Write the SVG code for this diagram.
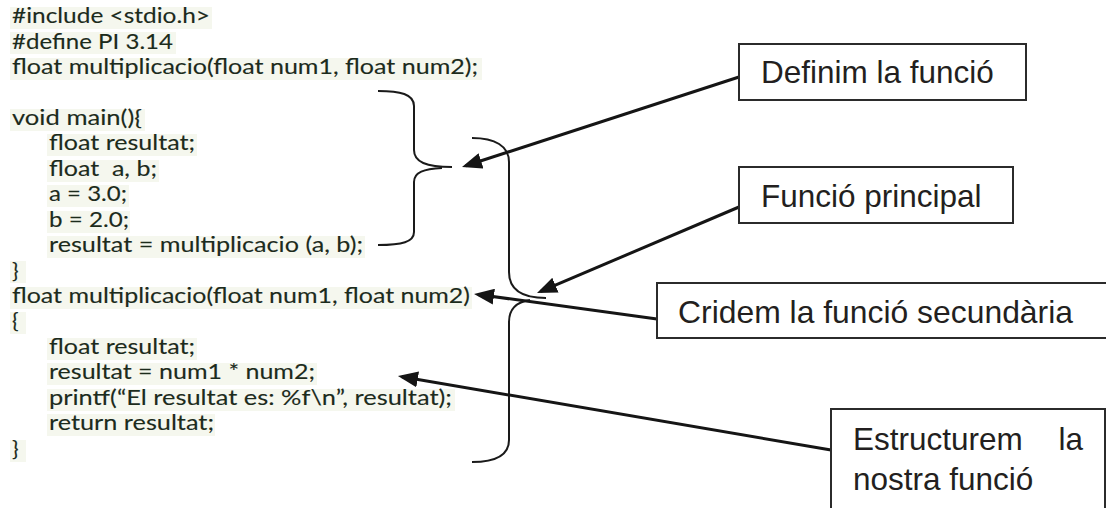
<svg xmlns="http://www.w3.org/2000/svg" width="1106" height="508" viewBox="0 0 1106 508">
  <defs>
    <style>
      .code { font-family: Lato, "Liberation Sans", sans-serif; font-size: 22px; fill: #1c2b1c; stroke: #1c2b1c; stroke-width: 0.12px; }
      .hl { fill: #f5f7ee; }
      .lbl { font-family: "Liberation Sans", Arial, sans-serif; font-size: 31.5px; fill: #231f20; }
      .box { fill: #ffffff; stroke: #2b2b2b; stroke-width: 2; }
      .conn { stroke: #151515; stroke-width: 3; fill: none; }
      .brace { stroke: #1a1a1a; stroke-width: 2; fill: none; }
    </style>
    <marker id="arrow" viewBox="0 0 20 16" refX="16" refY="8" markerWidth="20" markerHeight="16" orient="auto" markerUnits="userSpaceOnUse">
      <path d="M0,0 L20,8 L0,16 z" fill="#151515"/>
    </marker>
  </defs>

  <rect width="1106" height="508" fill="#ffffff"/>

  <!-- C source listing -->
  <g id="code">
    <g id="code-bg">
      <rect class="hl" x="10" y="7" width="202" height="22"/>
      <rect class="hl" x="10" y="32" width="166" height="22"/>
      <rect class="hl" x="10" y="58" width="472" height="22"/>
      <rect class="hl" x="10" y="109" width="135" height="22"/>
      <rect class="hl" x="47" y="134" width="150" height="22"/>
      <rect class="hl" x="47" y="160" width="112" height="22"/>
      <rect class="hl" x="47" y="185" width="82" height="22"/>
      <rect class="hl" x="47" y="211" width="83" height="22"/>
      <rect class="hl" x="47" y="236" width="318" height="22"/>
      <rect class="hl" x="10" y="261" width="16" height="22"/>
      <rect class="hl" x="10" y="287" width="462" height="22"/>
      <rect class="hl" x="10" y="312" width="16" height="22"/>
      <rect class="hl" x="47" y="338" width="150" height="22"/>
      <rect class="hl" x="47" y="363" width="270" height="22"/>
      <rect class="hl" x="47" y="389" width="408" height="22"/>
      <rect class="hl" x="47" y="414" width="168" height="22"/>
      <rect class="hl" x="10" y="440" width="16" height="22"/>
    </g>
    <text class="code" x="12" y="23" textLength="198" lengthAdjust="spacingAndGlyphs">#include &lt;stdio.h&gt;</text>
    <text class="code" x="12" y="48.5" textLength="161" lengthAdjust="spacingAndGlyphs">#define PI 3.14</text>
    <text class="code" x="12" y="74" textLength="466" lengthAdjust="spacingAndGlyphs">float multiplicacio(float num1, float num2);</text>
    <text class="code" x="12" y="125" textLength="130" lengthAdjust="spacingAndGlyphs">void main(){</text>
    <text class="code" x="49" y="150" textLength="146" lengthAdjust="spacingAndGlyphs">float resultat;</text>
    <text class="code" x="49" y="176" textLength="108" lengthAdjust="spacingAndGlyphs" xml:space="preserve">float  a, b;</text>
    <text class="code" x="49" y="201" textLength="78" lengthAdjust="spacingAndGlyphs">a = 3.0;</text>
    <text class="code" x="49" y="227" textLength="80" lengthAdjust="spacingAndGlyphs">b = 2.0;</text>
    <text class="code" x="49" y="252" textLength="314" lengthAdjust="spacingAndGlyphs">resultat = multiplicacio (a, b);</text>
    <text class="code" x="12" y="277.5">}</text>
    <text class="code" x="12" y="303" textLength="458" lengthAdjust="spacingAndGlyphs">float multiplicacio(float num1, float num2)</text>
    <text class="code" x="12" y="328">{</text>
    <text class="code" x="49" y="354" textLength="146" lengthAdjust="spacingAndGlyphs">float resultat;</text>
    <text class="code" x="49" y="379" textLength="266" lengthAdjust="spacingAndGlyphs">resultat = num1 * num2;</text>
    <text class="code" x="49" y="405" textLength="403" lengthAdjust="spacingAndGlyphs">printf(“El resultat es: %f\n”, resultat);</text>
    <text class="code" x="49" y="430" textLength="165" lengthAdjust="spacingAndGlyphs">return resultat;</text>
    <text class="code" x="12" y="455.5">}</text>
  </g>

  <!-- curly braces grouping the two function bodies -->
  <g id="braces">
    <path class="brace" d="M378,91 C400,91 414,94 414,106 L414,150 C414,162 426,167 452,167 M442,168 C424,169 414,172 414,182 L414,232 C414,242 402,245 378,245"/>
    <path class="brace" d="M472,138 C495,138 509,146 509,162 L509,272 C509,290 522,298 546,298 M530,300 C516,302 509,310 509,322 L509,440 C509,455 496,462 472,462"/>
  </g>

  <!-- connectors from the callouts -->
  <g id="connectors">
    <line class="conn" x1="739" y1="77" x2="465.8" y2="165.8" marker-end="url(#arrow)"/>
    <line class="conn" x1="739" y1="207" x2="540.7" y2="291.4" marker-end="url(#arrow)"/>
    <line class="conn" x1="657" y1="319" x2="478" y2="294.5" marker-end="url(#arrow)"/>
    <line class="conn" x1="831" y1="450" x2="401.9" y2="376.7" marker-end="url(#arrow)"/>
  </g>

  <!-- callout boxes -->
  <g id="definim">
    <rect class="box" x="739" y="44" width="287" height="56"/>
    <text class="lbl" x="761" y="83">Definim la funció</text>
  </g>
  <g id="principal">
    <rect class="box" x="739" y="167" width="274" height="56"/>
    <text class="lbl" x="761" y="207">Funció principal</text>
  </g>
  <g id="cridem">
    <rect class="box" x="657" y="283" width="460" height="55"/>
    <text class="lbl" x="678" y="323" textLength="395" lengthAdjust="spacingAndGlyphs">Cridem la funció secundària</text>
  </g>
  <g id="estructurem">
    <rect class="box" x="831" y="409" width="274" height="120"/>
    <text class="lbl" x="853" y="450">Estructurem</text>
    <text class="lbl" x="1083" y="450" text-anchor="end">la</text>
    <text class="lbl" x="853" y="490">nostra funció</text>
  </g>
</svg>
